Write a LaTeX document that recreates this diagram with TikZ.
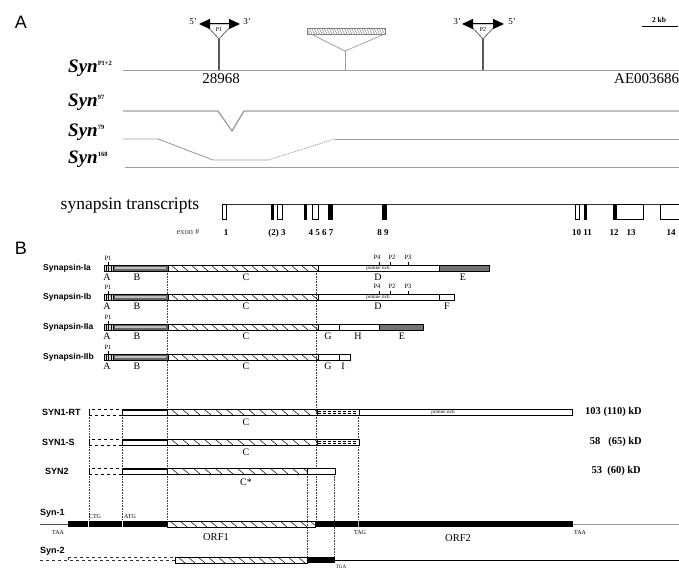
\documentclass[tikz,border=0pt]{standalone}
\usepackage{fontspec}
\setmainfont{Liberation Serif}
\setsansfont{Liberation Sans}
\usetikzlibrary{arrows.meta}
\newcommand\hatchbox[7]{%
  \begin{scope}
    \clip (#1,#2) rectangle (#3,#4);
    \pgfmathsetmacro\hbA{#1-#6}
    \pgfmathsetmacro\hbB{#1-#6+#5}
    \foreach \hx in {\hbA,\hbB,...,#3}{\draw[#7] (\hx,#2) -- ++({#6},{(#4)-(#2)});}
  \end{scope}}
\newcommand\synleft[1]{%
  \draw[boxline, fill=black!15] (104,#1-3) rectangle (113,#1+3);
  \foreach \vx in {106,108.5,111}{\draw[line width=0.9pt] (\vx,#1-3) -- (\vx,#1+3);}
  \draw[boxline, fill=black!60, line width=0.8pt] (113,#1-3) rectangle (168,#1+3);
  \fill[black!25] (115,#1-1) rectangle (166,#1+1);
  \hatchbox{168}{#1-3}{318}{#1+3}{10}{7}{hatchline}
  \draw[boxline] (168,#1-3) rectangle (318,#1+3);
  \draw[line width=0.5pt] (108,#1-6) -- (108,#1-3);
}
\newcommand\synrowleft[2]{%
  \draw[boxline, dashed] (89,#1-3) rectangle (122,#1+3);
  \draw[boxline] (89,#1-3) -- (89,#1+3);
  \draw[boxline, fill=white] (122,#1-3) rectangle (167,#1+3);
  \draw[line width=0.5pt] (122,#1-1.5) -- (167,#1-1.5);
  \hatchbox{167}{#1-3}{#2}{#1+3}{11}{7}{hatchline}
  \draw[boxline] (167,#1-3) rectangle (#2,#1+3);
}
\tikzset{
  gline/.style={draw=black!38, line width=0.9pt},
  stem/.style={draw=black!65, line width=1.1pt},
  boxline/.style={draw=black, line width=0.6pt},
  hatchline/.style={draw=black, line width=0.5pt},
  finehatch/.style={draw=black!60, line width=0.4pt},
  dotv/.style={draw=black!75, line width=0.6pt, densely dotted},
  rmt/.style={font=\rmfamily\fontsize{#1}{#1}\selectfont, inner sep=0pt},
  rmb/.style={font=\rmfamily\bfseries\fontsize{#1}{#1}\selectfont, inner sep=0pt},
  sfb/.style={font=\sffamily\bfseries\fontsize{#1}{#1}\selectfont, inner sep=0pt},
  sft/.style={font=\sffamily\fontsize{#1}{#1}\selectfont, inner sep=0pt},
  synlab/.style={font=\rmfamily\bfseries\itshape\fontsize{19}{19}\selectfont, inner sep=0pt, anchor=base west},
  arr/.style={{Triangle[length=11pt,width=10pt]}-{Triangle[length=11pt,width=10pt]}, line width=1pt},
  exonopen/.style={draw=black, line width=0.8pt, fill=white},
  exonfill/.style={draw=black, line width=0.6pt, fill=black},
}
\newcommand\sups[1]{\raisebox{7pt}{\upshape\fontsize{6.5}{6.5}\selectfont #1}}
\begin{document}
\begin{tikzpicture}[x=1pt,y=-1pt]
\useasboundingbox (0,0) rectangle (679,569);
% ================= Panel A =================
\node[sft=18] (labA) at (21,22) {A};
\node[synlab] (s12) at (68,73) {Syn\sups{P1+2}};
\node[synlab] (s97) at (68,107) {Syn\sups{97}};
\node[synlab] (s79) at (68,137) {Syn\sups{79}};
\node[synlab] (s168) at (68,164) {Syn\sups{168}};
% genomic lines
\draw[gline] (123,70) -- (679,70);
\draw[gline, line width=1.3pt] (123,111) -- (218,111) -- (232,131) -- (244,111) -- (679,111);
\draw[gline] (123,139) -- (158,139) -- (213,160) -- (268,160);
\draw[gline, densely dotted] (268,160) -- (335,139);
\draw[gline] (335,139) -- (679,139);
\draw[gline] (125,167) -- (679,167);
% P1 promoter
\draw[stem] (219,39) -- (219,70);
\draw[draw=black!60, fill=white, line width=0.8pt] (205,24) -- (233,24) -- (219,39) -- cycle;
\draw[arr] (199,24) -- (240,24);
\node[rmt=6] (p1a) at (219,29.5) {P1};
\node[rmt=9] (p1l) at (193,22) {5'};
\node[rmt=9] (p1r) at (247,22) {3'};
% P2 promoter
\draw[stem] (483,39) -- (483,70);
\draw[draw=black!60, fill=white, line width=0.8pt] (469,24) -- (497,24) -- (483,39) -- cycle;
\draw[arr] (462,24) -- (504,24);
\node[rmt=6] (p2a) at (483,29.5) {P2};
\node[rmt=9] (p2l) at (457,22) {3'};
\node[rmt=9] (p2r) at (512,22) {5'};
% insertion
\hatchbox{307}{28}{385}{34}{2.5}{3}{finehatch}
\draw[draw=black!50, line width=0.5pt] (307,28) rectangle (385,34);
\draw[gline, line width=0.7pt] (311,34) -- (345,51) -- (385,34);
\draw[gline, line width=0.7pt] (345,51) -- (345,70);
% scale
\node[rmb=7.5] (kb) at (659,19.5) {2 kb};
\draw[line width=1pt] (642,26.5) -- (678,26.5);
\node[rmt=15] (n1) at (221,79) {28968};
\node[rmt=15, anchor=west] (n2) at (614,79) {AE003686};
% transcripts
\node[rmt=17.5, anchor=base] (tr) at (130,210) {synapsin transcripts};
\draw[line width=0.8pt, black!80] (222,204.5) -- (679,204.5);
\draw[exonopen] (222,204.5) rectangle (226,219);
\draw[exonfill] (271,204.5) rectangle (273.5,219);
\draw[exonopen] (277,204.5) rectangle (282,219);
\draw[exonfill] (304,204.5) rectangle (306.5,219);
\draw[exonopen] (312,204.5) rectangle (318,219);
\draw[exonfill] (328,204.5) rectangle (332,219);
\draw[exonfill] (382,204.5) rectangle (386,219);
\draw[exonopen] (575,204.5) rectangle (579,219);
\draw[exonfill] (584,204.5) rectangle (586.5,219);
\draw[exonfill] (613,204.5) rectangle (616,219);
\draw[exonopen] (616,204.5) rectangle (643,219);
\draw[exonopen] (660,204.5) rectangle (690,219);
\node[rmt=8.5, text=black!75] (ex) at (188,232) {exon \#};
\node[rmb=9] (e1) at (226,233) {1};
\node[rmb=9] (e23) at (277,233) {(2) 3};
\node[rmb=9] (e47) at (321,233) {4 5 6 7};
\node[rmb=9] (e89) at (383,233) {8 9};
\node[rmb=9] (e1011) at (582,233) {10 11};
\node[rmb=9] (e12) at (614,233) {12};
\node[rmb=9] (e13) at (631,233) {13};
\node[rmb=9] (e14) at (671,233) {14};
% ================= Panel B =================
\node[sft=18] (labB) at (21,248) {B};
% dotted guides
\draw[dotv] (167.5,271) -- (167.5,521);
\draw[dotv] (316.5,271) -- (316.5,521);
\draw[dotv] (358,415) -- (358,521);
\draw[dotv] (89,415) -- (89,521);
\draw[dotv] (122,415) -- (122,521);
\draw[dotv] (307,474) -- (307,557);
\draw[dotv] (334.5,474) -- (334.5,557);
% Synapsin-Ia
\node[sfb=8.5, anchor=west] (ia) at (43,268) {Synapsin-Ia};
\synleft{268}
\draw[boxline, fill=white] (318,265) rectangle (439,271);
\node[rmt=5] at (378,268) {proline rich};
\draw[boxline, fill=black!55] (439,265) rectangle (489,271);
\foreach \tx in {379,390,408}{\draw[line width=0.5pt] (\tx,262) -- (\tx,265);}
\node[rmt=6.5] (ia1) at (108,258) {P1};
\node[rmt=6.5] (ia4) at (377,257) {P4};
\node[rmt=6.5] (ia2) at (392,257) {P2};
\node[rmt=6.5] (ia3) at (408,257) {P3};
\node[rmt=10] at (107,277.5) {A};
\node[rmt=10] at (137,277.5) {B};
\node[rmt=10] at (246,277.5) {C};
\node[rmt=10] at (378,277.5) {D};
\node[rmt=10] at (463,277.5) {E};
% Synapsin-Ib
\node[sfb=8.5, anchor=west] (ib) at (43,297) {Synapsin-Ib};
\synleft{297}
\draw[boxline, fill=white] (318,294) rectangle (439,300);
\node[rmt=5] at (378,297) {proline rich};
\draw[boxline, fill=white] (439,294) rectangle (454,300);
\foreach \tx in {379,390,408}{\draw[line width=0.5pt] (\tx,291) -- (\tx,294);}
\node[rmt=6.5] (ib1) at (108,287) {P1};
\node[rmt=6.5] (ib4) at (377,286) {P4};
\node[rmt=6.5] (ib2) at (392,286) {P2};
\node[rmt=6.5] (ib3) at (408,286) {P3};
\node[rmt=10] at (107,306.5) {A};
\node[rmt=10] at (137,306.5) {B};
\node[rmt=10] at (246,306.5) {C};
\node[rmt=10] at (378,306.5) {D};
\node[rmt=10] at (447,306.5) {F};
% Synapsin-IIa
\node[sfb=8.5, anchor=west] (iia) at (43,327) {Synapsin-IIa};
\synleft{327}
\draw[boxline, fill=white] (318,324) rectangle (339,330);
\draw[boxline, fill=white] (339,324) rectangle (379,330);
\draw[boxline, fill=black!55] (379,324) rectangle (423,330);
\node[rmt=6.5] (iia1) at (108,317) {P1};
\node[rmt=10] at (107,336.5) {A};
\node[rmt=10] at (137,336.5) {B};
\node[rmt=10] at (246,336.5) {C};
\node[rmt=10] at (328,336.5) {G};
\node[rmt=10] at (358,336.5) {H};
\node[rmt=10] at (402,336.5) {E};
% Synapsin-IIb
\node[sfb=8.5, anchor=west] (iib) at (43,357) {Synapsin-IIb};
\synleft{357}
\draw[boxline, fill=white] (318,354) rectangle (339,360);
\draw[boxline, fill=white] (339,354) rectangle (350.5,360);
\node[rmt=6.5] (iib1) at (108,347) {P1};
\node[rmt=10] at (107,366.5) {A};
\node[rmt=10] at (137,366.5) {B};
\node[rmt=10] at (246,366.5) {C};
\node[rmt=10] at (328,366.5) {G};
\node[rmt=10] at (343,366.5) {I};
% SYN1-RT
\node[sfb=9, anchor=west] (rt) at (42,412) {SYN1-RT};
\synrowleft{412}{317}
\draw[boxline, fill=white] (317,409) rectangle (359,415);
\draw[line width=0.5pt, dash pattern=on 3pt off 2pt] (318,410.8) -- (358,410.8) (318,413.2) -- (358,413.2);
\draw[boxline, fill=white] (359,409) rectangle (572,415);
\node[rmt=5] at (443,412) {proline rich};
\node[rmt=10] at (246,422) {C};
\node[rmb=10.5, anchor=east] (kd1) at (642,412) {103 (110) kD};
% SYN1-S
\node[sfb=9, anchor=west] (s1s) at (42,442) {SYN1-S};
\synrowleft{442}{317}
\draw[boxline, fill=white] (317,439) rectangle (359,445);
\draw[line width=0.5pt, dash pattern=on 3pt off 2pt] (318,440.8) -- (358,440.8) (318,443.2) -- (358,443.2);
\node[rmt=10] at (246,452) {C};
\node[rmb=10.5, anchor=east] (kd2) at (642,442) {58~~~(65) kD};
% SYN2
\node[sfb=9, anchor=west] (s2) at (45,471) {SYN2};
\synrowleft{471}{307}
\draw[boxline, fill=white] (307,468) rectangle (335,474);
\node[rmt=10] at (246,482) {C*};
\node[rmb=10.5, anchor=east] (kd3) at (641,471) {53~~(60) kD};
% Syn-1
\node[sfb=9, anchor=west] (g1) at (40,513) {Syn-1};
\draw[black!70, line width=0.8pt] (40,524) -- (68,524);
\fill[black] (68,521) rectangle (167,527);
\draw[white, line width=1pt] (88.5,521) -- (88.5,527) (122,521) -- (122,527);
\hatchbox{167}{521}{315}{527}{10}{7}{hatchline}
\draw[boxline] (167,521) rectangle (315,527);
\fill[black] (315,521) rectangle (573,527);
\draw[white!70!black, line width=0.6pt] (358,521) -- (358,527);
\draw[black!40, line width=0.8pt] (573,524) -- (679,524);
\node[rmt=6] (taa1) at (58,533) {TAA};
\node[rmt=6] (ctg) at (95,516.5) {CTG};
\node[rmt=6] (atg) at (130,516.5) {ATG};
\node[rmt=10.5] (orf1) at (216,537) {ORF1};
\node[rmt=6] (tag) at (360,532.5) {TAG};
\node[rmt=10.5] (orf2) at (458,538) {ORF2};
\node[rmt=6] (taa2) at (580,532.5) {TAA};
% Syn-2
\node[sfb=9, anchor=west] (g2) at (40,551) {Syn-2};
\draw[black!80, line width=0.6pt, dashed] (40,560) -- (175,560);
\draw[black!80, line width=0.6pt] (68,557) -- (68,560);
\draw[black!80, line width=0.6pt, dashed] (68,557) -- (175,557);
\hatchbox{175}{557}{307}{563}{10}{7}{hatchline}
\draw[boxline] (175,557) rectangle (307,563);
\fill[black] (307,557) rectangle (335,563);
\draw[black, line width=0.7pt] (335,560) -- (679,560);
\node[rmt=5, anchor=south] (tga) at (341,568.5) {TGA};
\end{tikzpicture}
\end{document}
